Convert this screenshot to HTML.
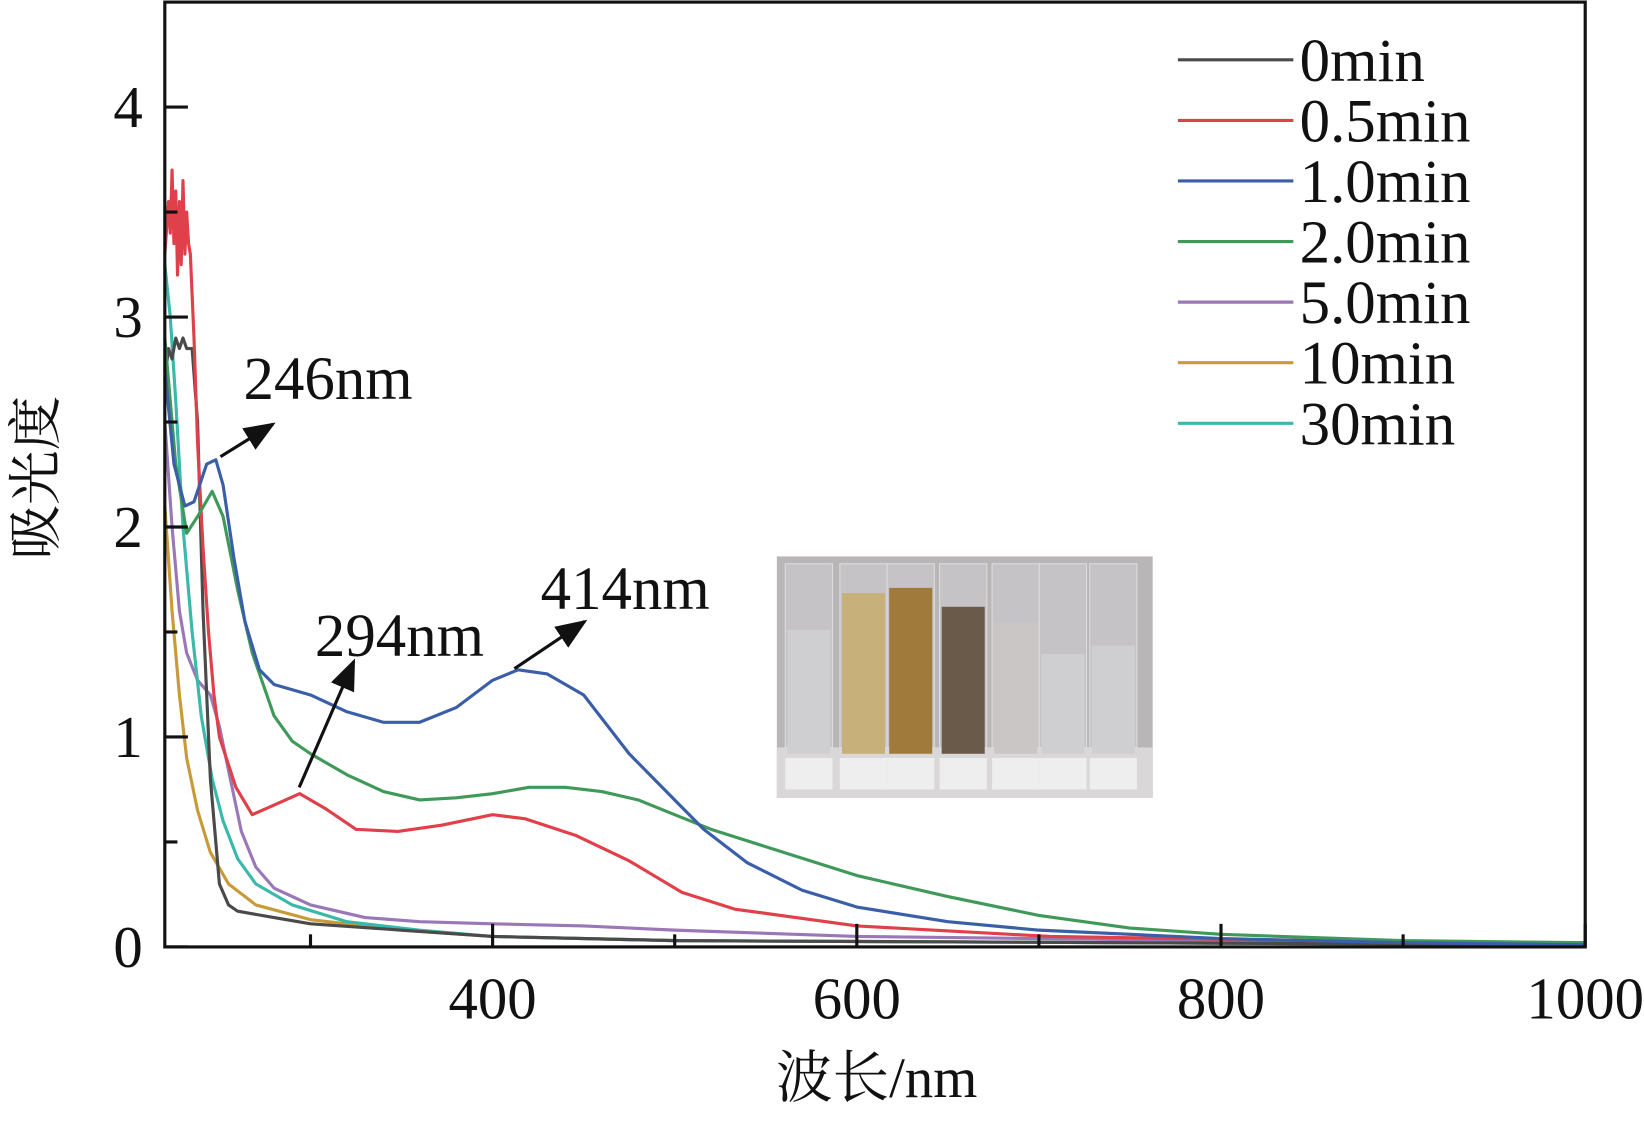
<!DOCTYPE html>
<html><head><meta charset="utf-8"><style>
body{margin:0;background:#fff}
svg text{font-family:"Liberation Serif","Times New Roman","Noto Serif CJK SC",serif;fill:#111}
</style></head><body>
<svg width="1644" height="1117" viewBox="0 0 1566 1064" preserveAspectRatio="none">
<defs><marker id="ah" markerWidth="10" markerHeight="8" refX="9" refY="4" orient="auto"><path d="M0,0 L10,4 L0,8 Z" fill="#111"/></marker></defs>
<g id="plot"></g>
<rect x="157" y="2" width="1353" height="900" fill="none" stroke="#111" stroke-width="3"/>
<g id="axes"></g>
<text x="0" y="0" font-size="52" transform="translate(52,455) rotate(-90)" text-anchor="middle">吸光度</text>
<text x="835" y="1045" font-size="54" text-anchor="middle">波长/nm</text>
<g>
<rect x="740" y="530" width="358" height="230" fill="#b9b6b7"/>
<rect x="740" y="712" width="358" height="48" fill="#d9d7d8"/>
<g id="vials"></g>
</g>
<g>
<line x1="210" y1="435" x2="260" y2="404" stroke="#111" stroke-width="3" marker-end="url(#ah)"/>
<text x="232" y="380" font-size="58">246nm</text>
<line x1="285" y1="750" x2="337" y2="630" stroke="#111" stroke-width="3" marker-end="url(#ah)"/>
<text x="300" y="625" font-size="58">294nm</text>
<line x1="490" y1="637" x2="557" y2="592" stroke="#111" stroke-width="3" marker-end="url(#ah)"/>
<text x="515" y="580" font-size="58">414nm</text>
</g>
<g id="legend"></g>
</svg>
<script>
const seriesNames=["0min","0.5min","1.0min","2.0min","5.0min","10min","30min"];
const seriesColors=["#4a4a4a","#e0404a","#3a5ea8","#3f9a5a","#9a78b8","#c89a38","#3ab8aa"];
const xTicks=[400,600,800,1000];
const yTicks=[0,1,2,3,4];
const wl0=[220,222,224,226,228,230,232,235,238,241,245,250,255,260,280,300,350,400,500,1000];
const a0=[2.7,2.85,2.8,2.9,2.85,2.9,2.85,2.85,2.5,1.6,0.8,0.3,0.2,0.17,0.14,0.11,0.08,0.05,0.03,0.01];
const wl1=[220,222,223,224,225,226,227,228,229,230,231,232,233,234,236,238,241,244,247,250,259,268,276,294,308,325,348,372,400,418,446,475,504,533,600,706,1000];
const a1=[3.3,3.55,3.4,3.7,3.35,3.6,3.2,3.55,3.25,3.65,3.3,3.5,3.35,3.3,2.9,2.4,1.9,1.5,1.2,1.0,0.76,0.63,0.66,0.73,0.66,0.56,0.55,0.58,0.63,0.61,0.53,0.41,0.26,0.18,0.1,0.05,0.01];
const wl2=[220,225,231,236,243,248,252,258,264,272,280,300,320,340,360,380,400,414,430,450,475,500,516,540,570,600,650,700,800,900,1000];
const a2=[2.75,2.3,2.1,2.12,2.3,2.32,2.2,1.85,1.55,1.32,1.25,1.2,1.12,1.07,1.07,1.14,1.27,1.32,1.3,1.2,0.92,0.7,0.56,0.4,0.27,0.19,0.12,0.08,0.04,0.02,0.01];
const wl3=[220,226,232,238,246,252,260,268,280,290,300,320,340,360,380,400,420,440,460,480,500,520,560,600,650,700,750,800,900,1000];
const a3=[2.9,2.3,1.97,2.05,2.17,2.05,1.7,1.4,1.1,0.98,0.92,0.82,0.74,0.7,0.71,0.73,0.76,0.76,0.74,0.7,0.63,0.56,0.45,0.34,0.24,0.15,0.09,0.06,0.03,0.02];
const wl4=[220,224,228,232,238,245,250,256,262,270,280,300,330,360,400,450,500,600,800,1000];
const a4=[2.5,2.0,1.6,1.4,1.27,1.2,1.05,0.8,0.55,0.38,0.28,0.2,0.14,0.12,0.11,0.1,0.08,0.05,0.03,0.02];
const wl5=[220,224,228,232,238,245,255,270,300,350,400,500,1000];
const a5=[2.1,1.6,1.2,0.9,0.65,0.45,0.3,0.2,0.13,0.08,0.05,0.03,0.01];
const wl6=[220,223,226,230,235,240,246,252,260,270,290,320,360,400,500,1000];
const a6=[3.25,3.0,2.6,2.0,1.5,1.1,0.8,0.6,0.42,0.3,0.2,0.12,0.08,0.05,0.03,0.01];
const allWl=[wl0,wl1,wl2,wl3,wl4,wl5,wl6], allA=[a0,a1,a2,a3,a4,a5,a6];
const X0=157,X1=1510,Y0=902,Y1=2,XMIN=220,XMAX=1000,YMIN=0,YMAX=4.5;
function sx(v){return X0+(v-XMIN)/(XMAX-XMIN)*(X1-X0);}
function sy(v){return Y0-(v-YMIN)/(YMAX-YMIN)*(Y0-Y1);}
const NS="http://www.w3.org/2000/svg";
function mk(t,at,p){const e=document.createElementNS(NS,t);for(const k in at)e.setAttribute(k,at[k]);p.appendChild(e);return e;}
const plot=document.getElementById('plot');
[5,4,6,0,1,3,2].forEach(i=>{
  const d=allWl[i].map((w,j)=>(j?'L':'M')+sx(w).toFixed(1)+','+sy(allA[i][j]).toFixed(1)).join(' ');
  const p=mk('path',{d:d,fill:'none',stroke:seriesColors[i],'stroke-width':3,'stroke-linejoin':'round'},plot);
  
  
});
const axes=document.getElementById('axes');
xTicks.forEach(v=>{
  mk('line',{x1:sx(v),y1:Y0,x2:sx(v),y2:Y0-22,stroke:'#111','stroke-width':3},axes);
  const t=mk('text',{x:sx(v),y:970,'font-size':56,'text-anchor':'middle'},axes);t.textContent=v;
  
  
});
[300,500,700,900].forEach(v=>mk('line',{x1:sx(v),y1:Y0,x2:sx(v),y2:Y0-12,stroke:'#111','stroke-width':3},axes));
yTicks.forEach(v=>{
  mk('line',{x1:X0,y1:sy(v),x2:X0+22,y2:sy(v),stroke:'#111','stroke-width':3},axes);
  const t=mk('text',{x:136,y:sy(v)+19,'font-size':56,'text-anchor':'end'},axes);t.textContent=v;
  
  
});
[0.5,1.5,2.5,3.5].forEach(v=>mk('line',{x1:X0,y1:sy(v),x2:X0+12,y2:sy(v),stroke:'#111','stroke-width':3},axes));
const lg=document.getElementById('legend');
seriesNames.forEach((n,i)=>{
  const y=57+i*57.7;
  mk('line',{x1:1122,y1:y,x2:1232,y2:y,stroke:seriesColors[i],'stroke-width':3},lg);
  const t=mk('text',{x:1238,y:y+20,'font-size':58},lg);t.textContent=n;
  
  
});
const vials=document.getElementById('vials');
const vx=[748,800,845,895,945,990,1038],vt=[600,565,560,578,593,623,615],vc=["#cfcfd2","#c8b07a","#a07a3a","#6a5a4a","#cbc6c6","#cfcfd2","#cfcfd2"];
vx.forEach((x,i)=>{
  mk('rect',{x:x,y:537,width:45,height:175,fill:'#c5c3c5',stroke:'#ddd','stroke-width':1},vials);
  mk('rect',{x:x+2,y:vt[i],width:41,height:718-vt[i],fill:vc[i]},vials);
  mk('rect',{x:x,y:722,width:45,height:30,fill:'#eeeeee'},vials);
});
</script>
</body></html>
